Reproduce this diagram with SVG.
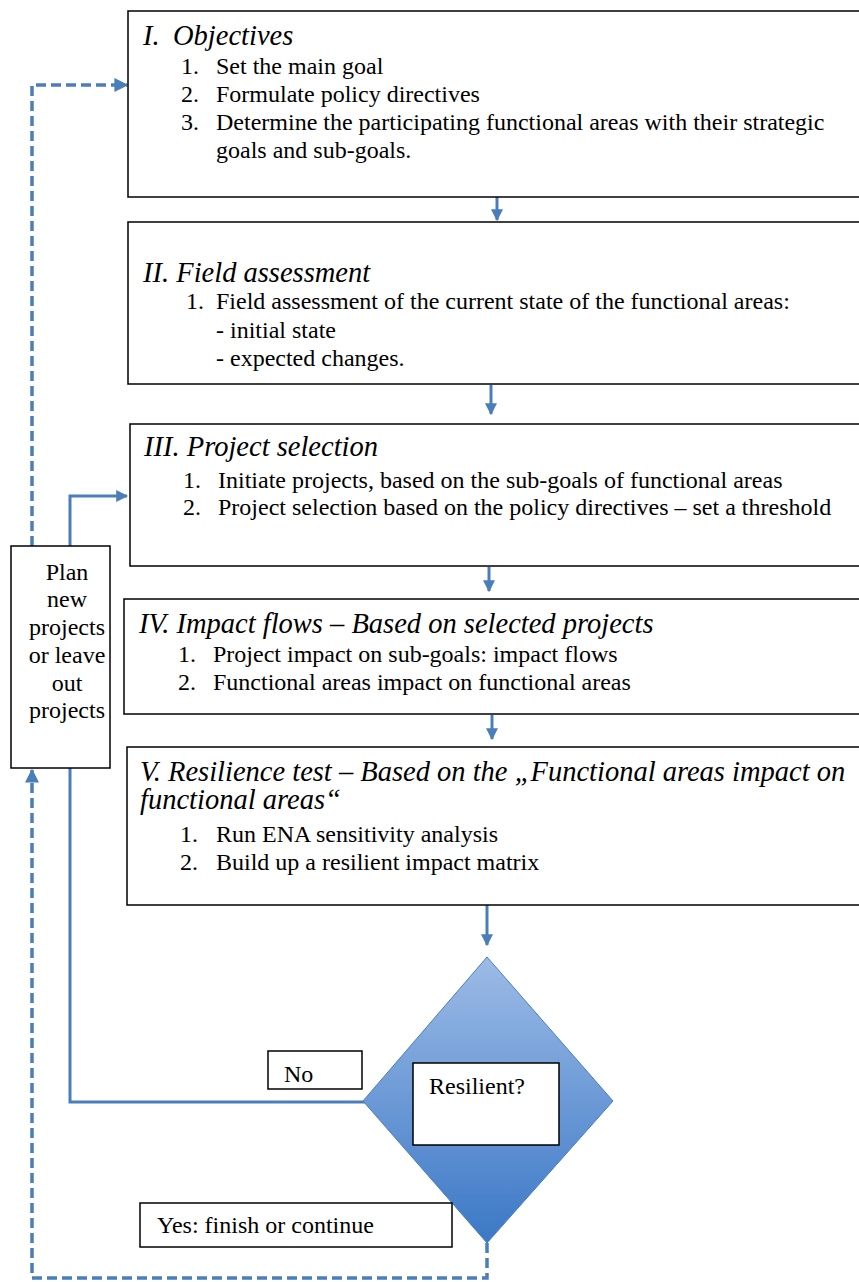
<svg xmlns="http://www.w3.org/2000/svg" width="859" height="1282" viewBox="0 0 859 1282">
<style>
.box{fill:#fff;stroke:#000;stroke-width:1.5}
.t{font-family:"Liberation Serif","Times New Roman",serif;font-size:24px;fill:#000}
.h{font-family:"Liberation Serif","Times New Roman",serif;font-size:28.5px;font-style:italic;fill:#000}
.c{fill:none;stroke:#4a7ebb;stroke-width:3}
.d{fill:none;stroke:#4a7ebb;stroke-width:3.5;stroke-dasharray:10,5}
</style>
<defs>
<marker id="ah" viewBox="0 0 10 10" refX="9" refY="5" markerWidth="4" markerHeight="4" orient="auto" markerUnits="strokeWidth">
<path d="M0,0 L10,5 L0,10 z" fill="#4a7ebb"/>
</marker>
<linearGradient id="dg" x1="0" y1="0" x2="0" y2="1">
<stop offset="0" stop-color="#9dbbe6"/>
<stop offset="1" stop-color="#3b78c6"/>
</linearGradient>
</defs>
<g id="connectors">
<line class="c" x1="497" y1="197" x2="497" y2="220" marker-end="url(#ah)"/>
<line class="c" x1="491" y1="385" x2="491" y2="414" marker-end="url(#ah)"/>
<line class="c" x1="489" y1="567" x2="489" y2="591" marker-end="url(#ah)"/>
<line class="c" x1="492" y1="715" x2="492" y2="739" marker-end="url(#ah)"/>
<line class="c" x1="487" y1="905" x2="487" y2="945" marker-end="url(#ah)"/>
<path class="c" d="M366,1102 H70 V496 H127" marker-end="url(#ah)"/>
<path class="d" d="M487,1243 V1278 H32 V770" marker-end="url(#ah)"/>
<path class="d" d="M32,546 V85 H127" marker-end="url(#ah)"/>
</g>
<g id="n1">
<rect class="box" x="128" y="11" width="735" height="186"/>
<text class="h" x="143" y="45">I.</text><text class="h" x="173" y="45">Objectives</text>
<text class="t" x="181" y="74">1.</text><text class="t" x="216" y="74">Set the main goal</text>
<text class="t" x="181" y="102">2.</text><text class="t" x="216" y="102">Formulate policy directives</text>
<text class="t" x="181" y="130">3.</text><text class="t" x="216" y="130">Determine the participating functional areas with their strategic</text>
<text class="t" x="216" y="158">goals and sub-goals.</text>
</g>
<g id="n2">
<rect class="box" x="128" y="222" width="735" height="162"/>
<text class="h" x="143" y="282">II. Field assessment</text>
<text class="t" x="186" y="309">1.</text><text class="t" x="216" y="309">Field assessment of the current state of the functional areas:</text>
<text class="t" x="216" y="338">- initial state</text>
<text class="t" x="216" y="366">- expected changes.</text>
</g>
<g id="n3">
<rect class="box" x="130" y="424" width="733" height="142"/>
<text class="h" x="144" y="456">III. Project selection</text>
<text class="t" x="183" y="488">1.</text><text class="t" x="218" y="488">Initiate projects, based on the sub-goals of functional areas</text>
<text class="t" x="183" y="515">2.</text><text class="t" x="218" y="515">Project selection based on the policy directives – set a threshold</text>
</g>
<g id="n4">
<rect class="box" x="124" y="599" width="739" height="115"/>
<text class="h" x="139" y="633">IV. Impact flows – Based on selected projects</text>
<text class="t" x="178" y="662">1.</text><text class="t" x="213" y="662">Project impact on sub-goals: impact flows</text>
<text class="t" x="178" y="690">2.</text><text class="t" x="213" y="690">Functional areas impact on functional areas</text>
</g>
<g id="n5">
<rect class="box" x="127" y="747" width="736" height="158"/>
<text class="h" x="140" y="781">V. Resilience test – Based on the „Functional areas impact on</text>
<text class="h" x="140" y="809">functional areas“</text>
<text class="t" x="180" y="842">1.</text><text class="t" x="216" y="842">Run ENA sensitivity analysis</text>
<text class="t" x="180" y="870">2.</text><text class="t" x="216" y="870">Build up a resilient impact matrix</text>
</g>
<g id="plan">
<rect class="box" x="11" y="546" width="99" height="222"/>
<text class="t" text-anchor="middle" x="67" y="580">Plan</text>
<text class="t" text-anchor="middle" x="67" y="607">new</text>
<text class="t" text-anchor="middle" x="67" y="635">projects</text>
<text class="t" text-anchor="middle" x="67" y="663">or leave</text>
<text class="t" text-anchor="middle" x="67" y="691">out</text>
<text class="t" text-anchor="middle" x="67" y="718">projects</text>
</g>
<g id="decision">
<polygon points="487,957 613,1101 487,1243 363,1101" fill="url(#dg)" stroke="#4a7ebb" stroke-width="1"/>
<rect class="box" x="413" y="1063" width="146" height="82"/>
<text class="t" x="429" y="1094">Resilient?</text>
</g>
<g id="no">
<rect class="box" x="268" y="1051" width="94" height="38"/>
<text class="t" x="284" y="1082">No</text>
</g>
<g id="yes">
<rect class="box" x="140" y="1203" width="312" height="44"/>
<text class="t" x="157" y="1233">Yes: finish or continue</text>
</g>
</svg>
